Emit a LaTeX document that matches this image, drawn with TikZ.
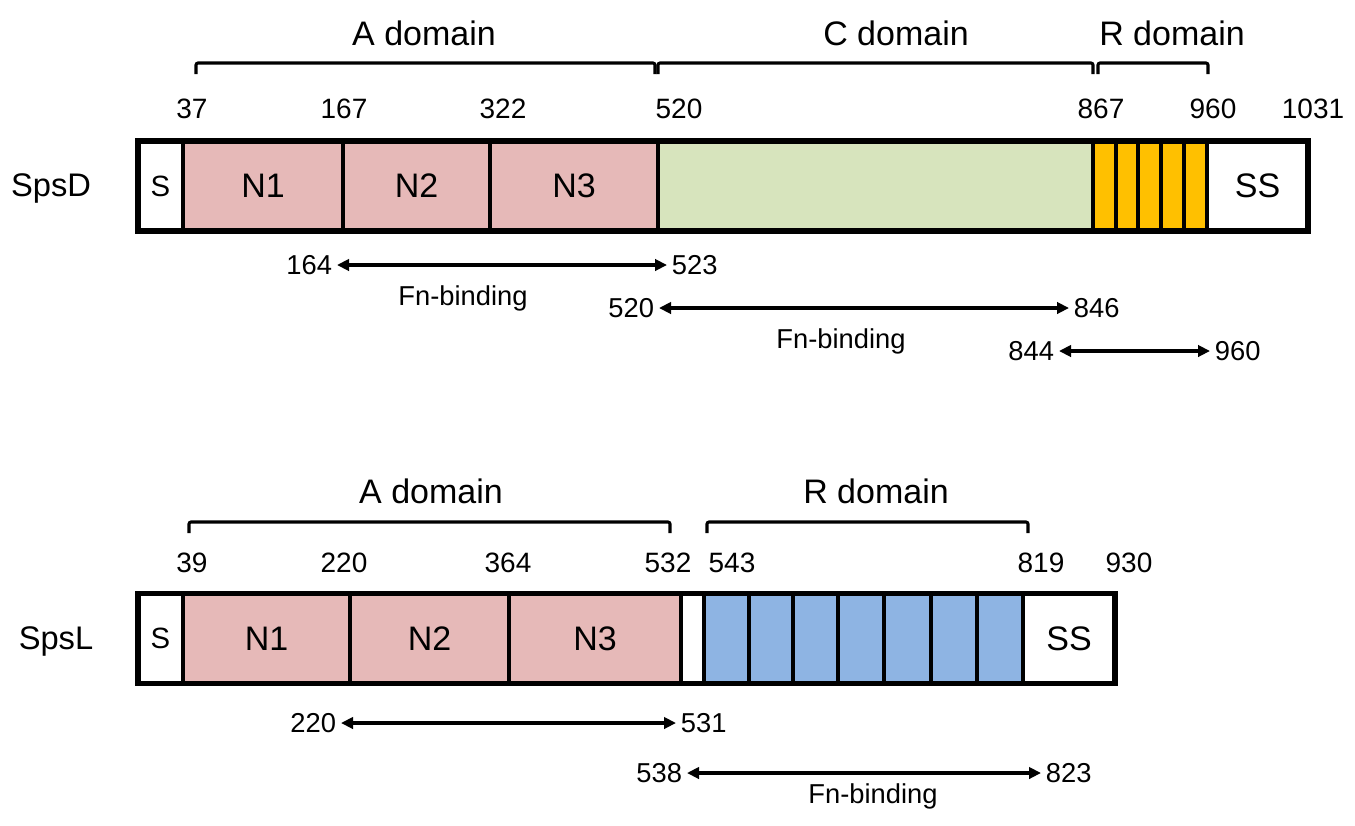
\documentclass[tikz,border=0pt]{standalone}
\usepackage{fontspec}
\setmainfont{Liberation Sans}
\usetikzlibrary{arrows.meta,fit}
\definecolor{pinkc}{HTML}{E6B9B8}
\definecolor{greenc}{HTML}{D7E4BD}
\definecolor{orangec}{HTML}{FFC000}
\definecolor{bluec}{HTML}{8EB4E3}
\begin{document}
\begin{tikzpicture}[x=0.75pt,y=-0.75pt,
  seg/.style={draw, line width=2.5pt, inner sep=0pt},
  segtxt/.style={font=\fontsize{25.5}{30}\selectfont, inner sep=0pt},
  stxt/.style={font=\fontsize{22}{26}\selectfont, inner sep=0pt},
  outerbox/.style={draw, line width=4pt, inner sep=0pt},
  brk/.style={line width=2.3pt, rounded corners=1.5pt},
  rng/.style={line width=2.4pt, {Triangle[length=9pt,width=8.5pt]}-{Triangle[length=9pt,width=8.5pt]}},
  dom/.style={font=\fontsize{25.5}{30}\selectfont, anchor=base, inner sep=0pt},
  posn/.style={font=\fontsize{21}{25}\selectfont, anchor=base, inner sep=0pt},
  lab/.style={font=\fontsize{20.5}{24}\selectfont, inner xsep=3.5pt, inner ysep=1pt},
  fnb/.style={font=\fontsize{20.5}{24}\selectfont, anchor=base, inner sep=0pt},
  prot/.style={font=\fontsize{24.5}{29}\selectfont, anchor=base, inner sep=0pt},
]
\useasboundingbox (0,0) rectangle (1355,825);

% ================= SpsD =================
\node[prot] (spsD) at (51,196) {SpsD};

\node[dom] (domA1) at (424,45) {A domain};
\node[dom] (domC1) at (896,45) {C domain};
\node[dom] (domR1) at (1172,45) {R domain};

\draw[brk] (196,74) -- (196,63) -- (655,63) -- (655,74);
\draw[brk] (658,74) -- (658,63) -- (1093,63) -- (1093,74);
\draw[brk] (1098,74) -- (1098,63) -- (1208,63) -- (1208,74);

\node[posn] (p37)   at (192,118) {37};
\node[posn] (p167)  at (344,118) {167};
\node[posn] (p322)  at (503,118) {322};
\node[posn] (p520)  at (679,118) {520};
\node[posn] (p867)  at (1101,118) {867};
\node[posn] (p960)  at (1213,118) {960};
\node[posn] (p1031) at (1313,118) {1031};

\node[seg, fill=white,   fit={(138,141) (183,231)}] (dS) {};
\node[seg, fill=pinkc,   fit={(183,141) (343,231)}] (dN1) {};
\node[seg, fill=pinkc,   fit={(343,141) (490,231)}] (dN2) {};
\node[seg, fill=pinkc,   fit={(490,141) (658,231)}] (dN3) {};
\node[seg, fill=greenc,  fit={(658,141) (1093,231)}] (dC) {};
\node[seg, fill=orangec, fit={(1093,141) (1116,231)}] (dR1) {};
\node[seg, fill=orangec, fit={(1116,141) (1138,231)}] (dR2) {};
\node[seg, fill=orangec, fit={(1138,141) (1161,231)}] (dR3) {};
\node[seg, fill=orangec, fit={(1161,141) (1184,231)}] (dR4) {};
\node[seg, fill=orangec, fit={(1184,141) (1207,231)}] (dR5) {};
\node[seg, fill=white,   fit={(1207,141) (1308,231)}] (dSS) {};
\node[outerbox, fit={(138,141) (1308,231)}] (boxD) {};

\node[stxt]   (tdS)   at (dS.center)  {S};
\node[segtxt] (tdN1)  at (dN1.center) {N1};
\node[segtxt] (tdN2)  at (dN2.center) {N2};
\node[segtxt] (tdN3)  at (dN3.center) {N3};
\node[segtxt] (tdSS)  at (dSS.center) {SS};

\node[lab, anchor=east] (a164) at (337,265) {164};
\node[lab, anchor=west] (a523) at (667,265) {523};
\draw[rng] (a164) -- (a523);
\node[fnb] (fn1) at (463,305) {Fn-binding};

\node[lab, anchor=east] (a520) at (659,308) {520};
\node[lab, anchor=west] (a846) at (1069,308) {846};
\draw[rng] (a520) -- (a846);
\node[fnb] (fn2) at (841,348.5) {Fn-binding};

\node[lab, anchor=east] (a844) at (1059,351) {844};
\node[lab, anchor=west] (a960) at (1210,351) {960};
\draw[rng] (a844) -- (a960);

% ================= SpsL =================
\node[prot] (spsL) at (56,649) {SpsL};

\node[dom] (domA2) at (431,503) {A domain};
\node[dom] (domR2) at (876,503) {R domain};

\draw[brk] (189,533) -- (189,522) -- (670,522) -- (670,533);
\draw[brk] (707,533) -- (707,522) -- (1028,522) -- (1028,533);

\node[posn] (q39)  at (192,572) {39};
\node[posn] (q220) at (344,572) {220};
\node[posn] (q364) at (508,572) {364};
\node[posn] (q532) at (668,572) {532};
\node[posn] (q543) at (732,572) {543};
\node[posn] (q819) at (1041,572) {819};
\node[posn] (q930) at (1129,572) {930};

\node[seg, fill=white, fit={(138,593.5) (183,683.5)}] (lS) {};
\node[seg, fill=pinkc, fit={(183,593.5) (350,683.5)}] (lN1) {};
\node[seg, fill=pinkc, fit={(350,593.5) (509,683.5)}] (lN2) {};
\node[seg, fill=pinkc, fit={(509,593.5) (681,683.5)}] (lN3) {};
\node[seg, fill=white, fit={(681,593.5) (704,683.5)}] (lgap) {};
\node[seg, fill=bluec, fit={(704,593.5) (749,683.5)}] (lR1) {};
\node[seg, fill=bluec, fit={(749,593.5) (793,683.5)}] (lR2) {};
\node[seg, fill=bluec, fit={(793,593.5) (838,683.5)}] (lR3) {};
\node[seg, fill=bluec, fit={(838,593.5) (884,683.5)}] (lR4) {};
\node[seg, fill=bluec, fit={(884,593.5) (931,683.5)}] (lR5) {};
\node[seg, fill=bluec, fit={(931,593.5) (977,683.5)}] (lR6) {};
\node[seg, fill=bluec, fit={(977,593.5) (1023,683.5)}] (lR7) {};
\node[seg, fill=white, fit={(1023,593.5) (1115,683.5)}] (lSS) {};
\node[outerbox, fit={(138,593.5) (1115,683.5)}] (boxL) {};

\node[stxt]   (tlS)  at (lS.center)  {S};
\node[segtxt] (tlN1) at (lN1.center) {N1};
\node[segtxt] (tlN2) at (lN2.center) {N2};
\node[segtxt] (tlN3) at (lN3.center) {N3};
\node[segtxt] (tlSS) at (lSS.center) {SS};

\node[lab, anchor=east] (b220) at (341,723) {220};
\node[lab, anchor=west] (b531) at (676,723) {531};
\draw[rng] (b220) -- (b531);

\node[lab, anchor=east] (b538) at (687,773) {538};
\node[lab, anchor=west] (b823) at (1041,773) {823};
\draw[rng] (b538) -- (b823);
\node[fnb] (fn3) at (873,803) {Fn-binding};
\end{tikzpicture}
\end{document}
